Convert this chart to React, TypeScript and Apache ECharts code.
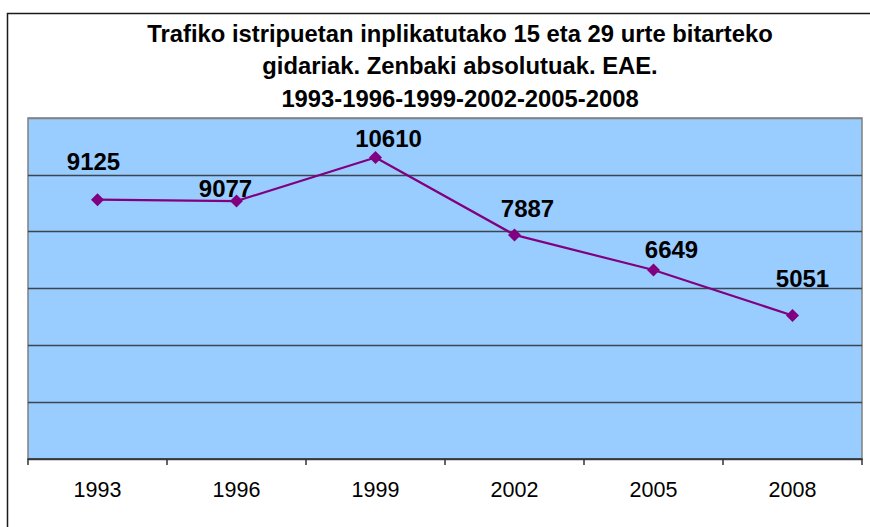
import React, { useEffect, useRef } from "react";
import * as echarts from "echarts";

const titleLines = [
  "Trafiko istripuetan inplikatutako 15 eta 29 urte bitarteko",
  "gidariak. Zenbaki absolutuak. EAE.",
  "1993-1996-1999-2002-2005-2008",
];
const years = ["1993", "1996", "1999", "2002", "2005", "2008"];
const drivers = [9125, 9077, 10610, 7887, 6649, 5051];
const yMin = 0;
const yMax = 12000;
const yStep = 2000;

// label placement relative to each point (as in the original, labels were hand-placed)
const labelOffsets: [number, number][] = [
  [-4, -38],
  [-11, -13],
  [13, -19],
  [13, -26],
  [18, -21],
  [10, -37],
];

const FONT = "'Liberation Sans', Arial, Helvetica, sans-serif";

export default function App() {
  const ref = useRef<HTMLDivElement>(null);
  useEffect(() => {
    if (!ref.current) return;
    const chart = echarts.init(ref.current, undefined, { renderer: "svg" });
    const gridDark = "#3c4650";
    const nLines = Math.round((yMax - yMin) / yStep) + 1;
    const splitColors = Array.from({ length: nLines }, (_, i) =>
      i === nLines - 1 ? "#808080" : gridDark
    );
    chart.setOption({
      animation: false,
      backgroundColor: "#ffffff",
      title: {
        text: titleLines.join("\n"),
        left: 460,
        top: 17,
        padding: 0,
        textAlign: "center",
        textStyle: {
          fontFamily: FONT,
          fontSize: 23.8,
          fontWeight: "bold",
          color: "#000",
          lineHeight: 32.5,
        },
      },
      graphic: [
        {
          type: "rect",
          silent: true,
          z: 100,
          shape: { x: 7.5, y: 13.5, width: 900, height: 600 },
          style: { fill: "none", stroke: "#1a1a1a", lineWidth: 1.5 },
        },
      ],
      grid: {
        left: 28,
        right: 8,
        top: 118,
        bottom: 68,
        show: true,
        backgroundColor: "#99CCFF",
        borderColor: "#808080",
        borderWidth: 1.5,
        containLabel: false,
      },
      xAxis: {
        type: "category",
        data: years,
        boundaryGap: true,
        axisLine: { show: true, lineStyle: { color: "#333", width: 1.5 } },
        axisTick: { show: true, length: 6, lineStyle: { color: "#333", width: 1.5 } },
        axisLabel: {
          margin: 20,
          fontFamily: FONT,
          fontSize: 21.5,
          color: "#000",
        },
        splitLine: { show: false },
      },
      yAxis: {
        type: "value",
        min: yMin,
        max: yMax,
        interval: yStep,
        axisLabel: { show: false },
        axisTick: { show: false },
        axisLine: { show: false },
        splitLine: { show: true, lineStyle: { color: splitColors, width: 1.3 } },
      },
      series: [
        {
          type: "line",
          data: drivers.map((v, i) => ({
            value: v,
            label: { offset: labelOffsets[i] },
          })),
          symbol: "diamond",
          symbolSize: 13,
          lineStyle: { color: "#800080", width: 2.2 },
          itemStyle: { color: "#800080" },
          label: {
            show: true,
            position: "inside",
            fontFamily: FONT,
            fontSize: 24,
            fontWeight: "bold",
            color: "#000",
          },
        },
      ],
    });
    return () => chart.dispose();
  }, []);
  return (
    <div
      ref={ref}
      style={{ position: "absolute", left: 0, top: 0, width: 870, height: 527 }}
    />
  );
}
